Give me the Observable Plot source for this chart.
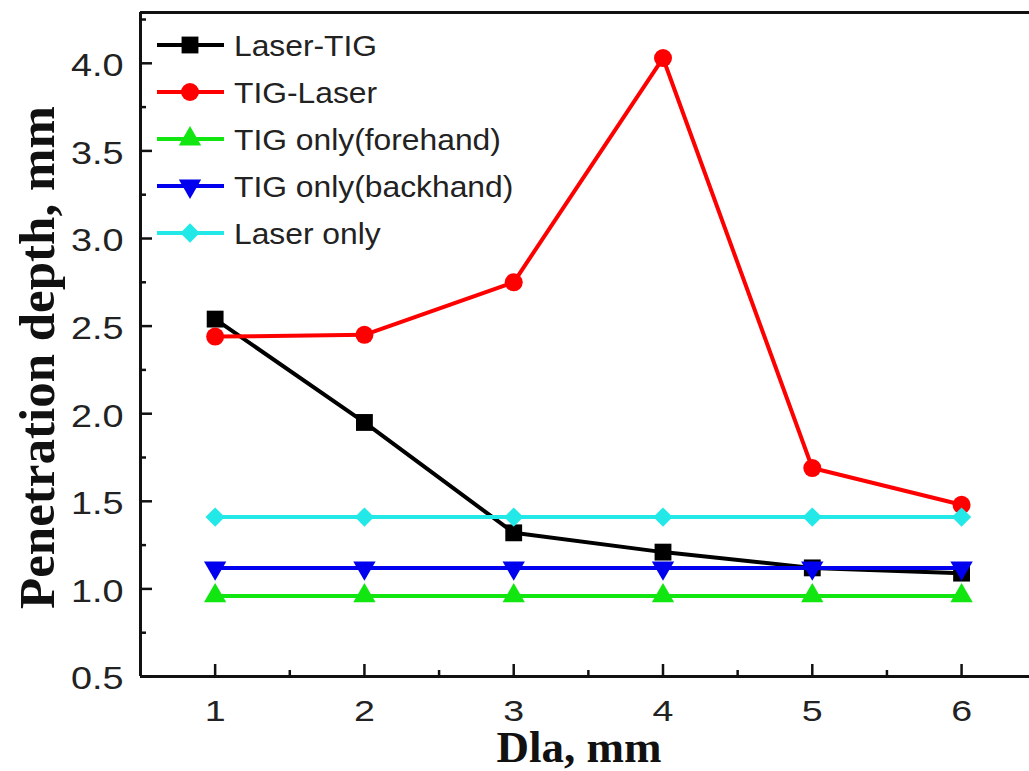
<!DOCTYPE html>
<html><head><meta charset="utf-8">
<script src="https://cdn.jsdelivr.net/npm/d3@7"></script>
<script src="https://cdn.jsdelivr.net/npm/@observablehq/plot@0.6"></script>
<style>
body{margin:0;background:#fff;}
#chart{position:relative;width:1029px;height:771px;overflow:hidden;}
</style></head><body><div id="chart"></div>
<script>
// ---- data ----
const dla = [1, 2, 3, 4, 5, 6];
const laserTIG    = [2.54, 1.95, 1.32, 1.21, 1.12, 1.09];
const tigLaser    = [2.44, 2.45, 2.75, 4.03, 1.69, 1.48];
const tigForehand = [0.96, 0.96, 0.96, 0.96, 0.96, 0.96];
const tigBackhand = [1.12, 1.12, 1.12, 1.12, 1.12, 1.12];
const laserOnly   = [1.41, 1.41, 1.41, 1.41, 1.41, 1.41];
const seriesNames  = ["Laser-TIG", "TIG-Laser", "TIG only(forehand)", "TIG only(backhand)", "Laser only"];
const seriesValues = [laserTIG, tigLaser, tigForehand, tigBackhand, laserOnly];
const seriesColors = ["#000000", "#ff0000", "#11e611", "#0000ee", "#22e8e8"];
const seriesSymbols = ["square", "circle", "triangle", "triangle", "diamond2"];
const seriesRotate  = [0, 0, 0, 180, 0];
const seriesR       = [9.5, 9, 8.3, 8.3, 8.7];
const xMajorTicks = [1, 2, 3, 4, 5, 6];
const xMinorTicks = [1.5, 2.5, 3.5, 4.5, 5.5];
const yMajorTicks = [0.5, 1.0, 1.5, 2.0, 2.5, 3.0, 3.5, 4.0];
const yMinorTicks = [0.75, 1.25, 1.75, 2.25, 2.75, 3.25, 3.75, 4.25];
const xLabel = "Dla, mm";
const yLabel = "Penetration depth, mm";

const rows = [];
seriesNames.forEach((name, i) => dla.forEach((d, j) => rows.push({series: name, dla: d, depth: seriesValues[i][j]})));

const W = 1029, H = 771, ML = 140, MR = 0, MT = 12, MB = 95;
const frameW = W - ML - MR, frameH = H - MT - MB;
const xDomain = [0.5, 6.455], yDomain = [0.5, 4.29];
const sans = "'Liberation Sans', Arial, sans-serif";
const serif = "'Liberation Serif', 'Times New Roman', serif";

const marks = [];
// series
seriesNames.forEach((name, i) => {
  const data = rows.filter(r => r.series === name);
  marks.push(Plot.line(data, {x: "dla", y: "depth", stroke: seriesColors[i], strokeWidth: 4}));
  marks.push(Plot.dot(data, {x: "dla", y: "depth", symbol: seriesSymbols[i], fill: seriesColors[i], stroke: "none", r: seriesR[i], rotate: seriesRotate[i]}));
});
// frame lines (left, bottom, top)
marks.push(Plot.ruleX([xDomain[0]], {stroke: "#111", strokeWidth: 3}));
marks.push(Plot.ruleY([yDomain[0]], {stroke: "#111", strokeWidth: 3}));
marks.push(Plot.ruleY([yDomain[1]], {stroke: "#111", strokeWidth: 3}));
// inward ticks
marks.push(Plot.ruleX(xMajorTicks, {stroke: "#111", strokeWidth: 2.5, insetTop: frameH - 12}));
marks.push(Plot.ruleX(xMinorTicks, {stroke: "#111", strokeWidth: 2.5, insetTop: frameH - 6}));
marks.push(Plot.ruleY(yMajorTicks, {stroke: "#111", strokeWidth: 2.5, insetRight: frameW - 12}));
marks.push(Plot.ruleY(yMinorTicks, {stroke: "#111", strokeWidth: 2.5, insetRight: frameW - 6}));
// tick labels
marks.push(Plot.axisX(xMajorTicks, {tickSize: 0, tickPadding: 23, fontSize: 30, fontFamily: sans, fill: "#222", label: null, tickFormat: d => String(d)}));
marks.push(Plot.axisY(yMajorTicks, {tickSize: 0, tickPadding: 17, fontSize: 31, fontFamily: sans, fill: "#222", label: null, tickFormat: d => d.toFixed(1), dy: 3}));
// axis titles
marks.push(Plot.text([xLabel], {frameAnchor: "bottom", textAnchor: "middle", lineAnchor: "middle", dy: 71, dx: -6, fontSize: 45, fontWeight: "bold", fontFamily: serif, fill: "#111", text: d => d}));
marks.push(Plot.text([yLabel], {frameAnchor: "left", textAnchor: "middle", lineAnchor: "middle", dx: -103, dy: 13, rotate: -90, fontSize: 51, fontWeight: "bold", fontFamily: serif, fill: "#111", text: d => d}));

const plot = Plot.plot({
  width: W, height: H,
  marginLeft: ML, marginRight: MR, marginTop: MT, marginBottom: MB,
  x: {domain: xDomain, axis: null},
  y: {domain: yDomain, axis: null},
  style: {background: "#fff", overflow: "visible"},
  marks
});

// legend inside plot, top-left
const svg = d3.select(plot);
const lg = svg.append("g").attr("class", "legend");
const symMap = {square: d3.symbolSquare, circle: d3.symbolCircle, triangle: d3.symbolTriangle, diamond2: d3.symbolDiamond2};
seriesNames.forEach((name, i) => {
  const cy = 45 + 47 * i;
  const g = lg.append("g").attr("transform", `translate(0,${cy})`);
  g.append("line").attr("x1", 157).attr("x2", 224).attr("y1", 0).attr("y2", 0)
    .attr("stroke", seriesColors[i]).attr("stroke-width", 4);
  const r = seriesR[i];
  g.append("path").attr("d", d3.symbol(symMap[seriesSymbols[i]], Math.PI * r * r)())
    .attr("transform", `translate(190,0) rotate(${seriesRotate[i]})`)
    .attr("fill", seriesColors[i]);
  g.append("text").attr("class", "legend-text").attr("x", 234).attr("y", 0).attr("dy", "0.36em")
    .attr("text-anchor", "start")
    .attr("font-family", sans).attr("font-size", 30).attr("fill", "#222").text(name);
});

document.getElementById("chart").appendChild(plot);

// horizontal stretch of the small text, as in the reference image
function stretch(sel, k) {
  sel.each(function() {
    const w = this.getComputedTextLength();
    this.setAttribute("textLength", (w * k).toFixed(1));
    this.setAttribute("lengthAdjust", "spacingAndGlyphs");
  });
}
stretch(svg.selectAll('g[aria-label="x-axis tick label"] text'), 1.25);
stretch(svg.selectAll('g[aria-label="y-axis tick label"] text'), 1.22);
stretch(svg.selectAll('text.legend-text'), 1.06);
</script>
</body></html>
